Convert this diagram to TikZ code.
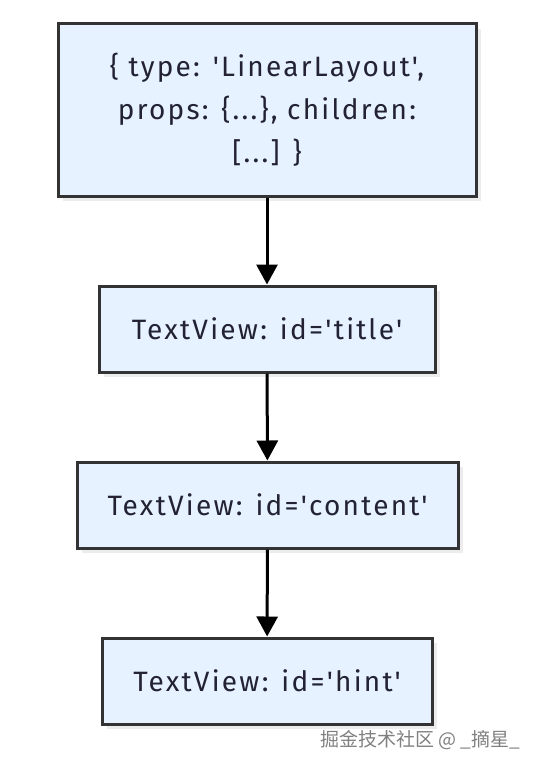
\documentclass[tikz,border=0pt]{standalone}
\usepackage{fontspec}
\setmainfont{Fira Sans}[Ligatures=TeXOff, LetterSpace=8]
\newfontfamily\cjk{Noto Sans CJK SC}
\usetikzlibrary{arrows.meta,shadows}
\definecolor{boxfill}{HTML}{E6F2FF}
\definecolor{boxline}{HTML}{333333}
\definecolor{boxtext}{HTML}{222233}

\begin{document}
\begin{tikzpicture}[
x=1pt, y=-1pt,
obj/.style={draw=boxline, line width=3pt, fill=boxfill,
  font=\fontsize{28}{43}\selectfont, text=boxtext, align=center, inner sep=0pt,
  drop shadow={opacity=0.15, shadow xshift=5pt, shadow yshift=-5pt}},
arrow/.style={-{Triangle[length=20pt,width=21pt]}, line width=3pt} ]

\useasboundingbox (0,0) rectangle (544,768);

\node[obj, minimum width=418pt, minimum height=172pt] (root) at (267,110)
  {\{ type: 'LinearLayout',\\ props: \{...\}, children:\\{}{[}...{]} \}};

\node[obj, minimum width=336pt, minimum height=86pt] (title) at (267,329) {TextView: id='title'};

\node[obj, minimum width=381pt, minimum height=86pt] (content) at (267.5,505) {TextView: id='content'};

\node[obj, minimum width=330pt, minimum height=86pt] (hint) at (267,681) {TextView: id='hint'};

\draw[arrow] (root) -- (title);

\draw[arrow] (title) -- (content);

\draw[arrow] (content) -- (hint);

% watermark
\node[font=\cjk\fontsize{19}{19}\selectfont, text=black!50, inner sep=0pt] (mark) at (420,740) {掘金技术社区 @ \_摘星\_};

\end{tikzpicture}
\end{document}
